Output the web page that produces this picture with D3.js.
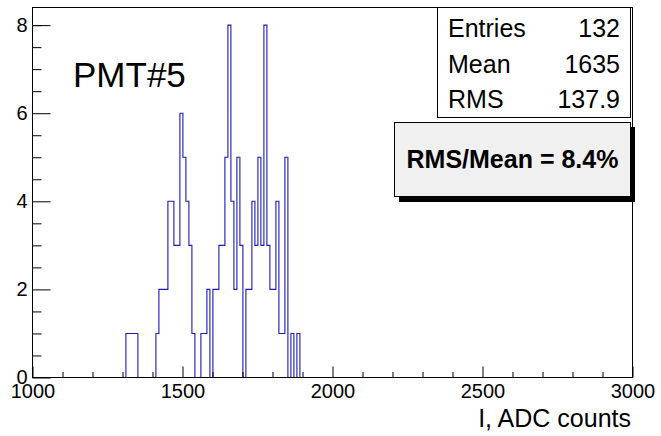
<!DOCTYPE html>
<html>
<head>
<meta charset="utf-8">
<script src="https://cdn.jsdelivr.net/npm/d3@7"></script>
<style>
  body { margin: 0; background: #fff; }
  svg { display: block; font-family: "Liberation Sans", Arial, Helvetica, sans-serif; }
  .axis .domain { display: none; }
  .axis line { stroke: #000; }
  .axis text { font-size: 20px; fill: #000; font-family: "Liberation Sans", Arial, sans-serif; }
</style>
</head>
<body>
<svg class="chart" width="661" height="436"></svg>
<script>
// histogram bins (lower edge, width 10) and their counts
const binLow = [1300, 1310, 1320, 1330, 1340, 1350, 1360, 1370, 1380, 1390,
  1400, 1410, 1420, 1430, 1440, 1450, 1460, 1470, 1480, 1490,
  1500, 1510, 1520, 1530, 1540, 1550, 1560, 1570, 1580, 1590,
  1600, 1610, 1620, 1630, 1640, 1650, 1660, 1670, 1680, 1690,
  1700, 1710, 1720, 1730, 1740, 1750, 1760, 1770, 1780, 1790,
  1800, 1810, 1820, 1830, 1840, 1850, 1860, 1870, 1880, 1890];
const counts = [0, 1, 1, 1, 1, 0, 0, 0, 0, 0,
  0, 1, 2, 2, 2, 4, 4, 3, 3, 6,
  5, 4, 3, 1, 0, 0, 1, 1, 2, 0,
  2, 2, 3, 3, 5, 8, 4, 2, 5, 3,
  0, 2, 2, 4, 3, 5, 3, 8, 3, 2,
  2, 4, 1, 1, 5, 0, 1, 0, 1, 0];
const binWidth = 10;

const xDomain = [1000, 3000];
const yDomain = [0, 8.4];
const xMajor = [1000, 1500, 2000, 2500, 3000];
const xMinor = [1100, 1200, 1300, 1400, 1600, 1700, 1800, 1900, 2100, 2200, 2300, 2400,
  2600, 2700, 2800, 2900];
const yMajor = [0, 2, 4, 6, 8];
const yMinor = [0.5, 1, 1.5, 2.5, 3, 3.5, 4.5, 5, 5.5, 6.5, 7, 7.5, 8];

const statsLabels = ["Entries", "Mean", "RMS"];
const statsValues = ["132", "1635", "137.9"];
const label = "PMT#5";
const ratioText = "RMS/Mean = 8.4%";
const xTitle = "I, ADC counts";

const svg = d3.select(".chart");
const frame = { left: 32.5, right: 632.5, top: 7.5, bottom: 377.5 };

const xScale = d3.scaleLinear().domain(xDomain).range([frame.left, frame.right]);
const yScale = d3.scaleLinear().domain(yDomain).range([frame.bottom, frame.top]);

// histogram outline
const pts = binLow.map((b, i) => ({ x: b, c: counts[i] }));
pts.push({ x: binLow[binLow.length - 1] + binWidth, c: 0 });

const line = d3
  .line()
  .x((d) => xScale(d.x))
  .y((d) => yScale(d.c))
  .curve(d3.curveStepAfter);

svg.append("path")
  .datum(pts)
  .attr("d", line)
  .attr("transform", "translate(0.4,0)")
  .attr("fill", "none")
  .attr("stroke", "#1a1ab4")
  .attr("stroke-width", 1.1);

// axes, ticks pointing into the frame like ROOT
svg.append("g")
  .attr("class", "axis")
  .attr("transform", `translate(0,${frame.bottom})`)
  .call(d3.axisBottom(xScale).tickValues(xMinor).tickSize(-5.5).tickFormat(""));

svg.append("g")
  .attr("class", "axis")
  .attr("transform", `translate(0,${frame.bottom})`)
  .call(d3.axisBottom(xScale).tickValues(xMajor).tickSize(-11).tickPadding(6).tickFormat(d3.format("d")));

svg.append("g")
  .attr("class", "axis")
  .attr("transform", `translate(${frame.left},0)`)
  .call(d3.axisLeft(yScale).tickValues(yMinor).tickSize(-9).tickFormat(""));

svg.append("g")
  .attr("class", "axis")
  .attr("transform", `translate(${frame.left},0)`)
  .call(d3.axisLeft(yScale).tickValues(yMajor).tickSize(-18).tickPadding(5).tickFormat(d3.format("d")));

svg.append("rect")
  .attr("x", frame.left)
  .attr("y", frame.top)
  .attr("width", frame.right - frame.left)
  .attr("height", frame.bottom - frame.top)
  .attr("fill", "none")
  .attr("stroke", "#000");

// pad label
svg.append("text")
  .attr("x", 73)
  .attr("y", 87)
  .attr("font-size", 35)
  .text(label);

// stats box
svg.append("rect")
  .attr("x", 437.5)
  .attr("y", 7.5)
  .attr("width", 193)
  .attr("height", 110)
  .attr("fill", "#fff")
  .attr("stroke", "#000");

statsLabels.forEach((s, i) => {
  svg.append("text")
    .attr("x", 448)
    .attr("y", 37 + i * 35.7)
    .attr("font-size", 25)
    .text(s);
  svg.append("text")
    .attr("x", 620)
    .attr("y", 37 + i * 35.7)
    .attr("font-size", 25)
    .attr("text-anchor", "end")
    .text(statsValues[i]);
});

// RMS/Mean box with shadow
svg.append("rect")
  .attr("x", 399)
  .attr("y", 127)
  .attr("width", 236)
  .attr("height", 75)
  .attr("fill", "#000");

svg.append("rect")
  .attr("x", 394.5)
  .attr("y", 122.5)
  .attr("width", 236)
  .attr("height", 74)
  .attr("fill", "#f0f0f0")
  .attr("stroke", "#000");

svg.append("text")
  .attr("x", 512.5)
  .attr("y", 168)
  .attr("font-size", 25)
  .attr("font-weight", "bold")
  .attr("text-anchor", "middle")
  .text(ratioText);

// x axis title
svg.append("text")
  .attr("x", 631)
  .attr("y", 427)
  .attr("font-size", 25)
  .attr("text-anchor", "end")
  .text(xTitle);
</script>
</body>
</html>
